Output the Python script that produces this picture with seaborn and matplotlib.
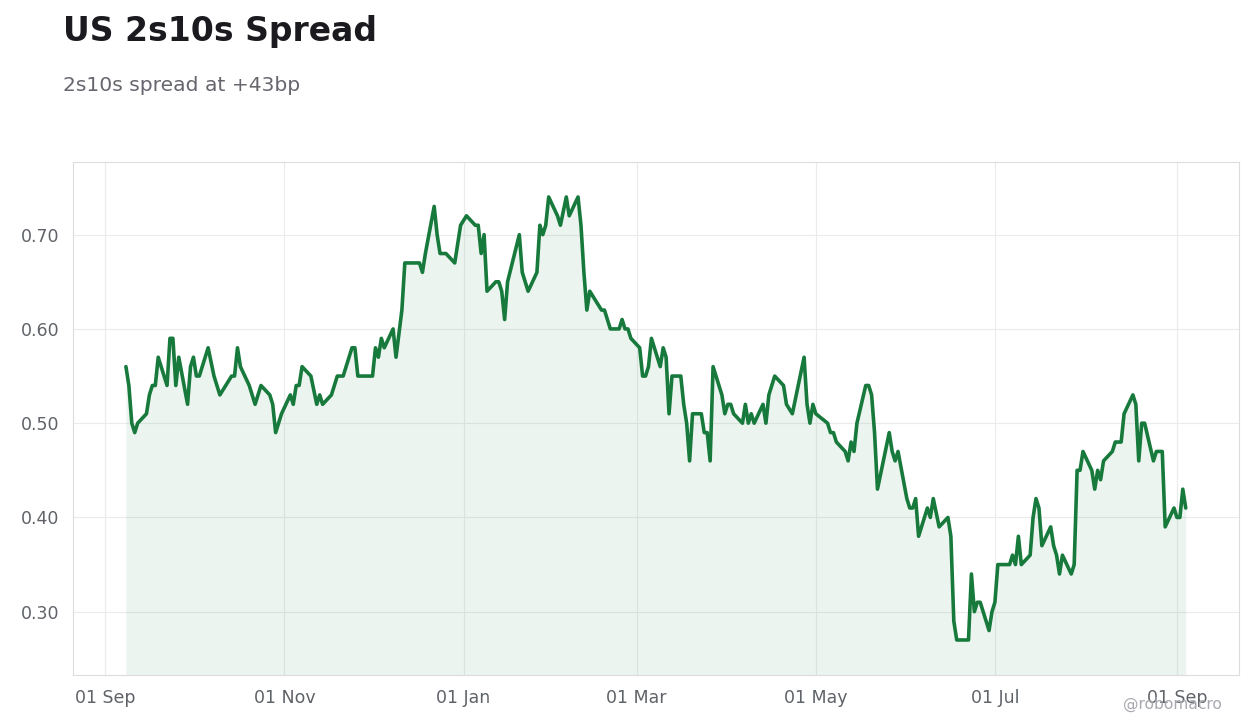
import pandas as pd
import matplotlib.pyplot as plt
import matplotlib.dates as mdates
import seaborn as sns

sns.set_theme(style="whitegrid")
plt.rcParams['font.family'] = ['DejaVu Sans']

# 2s10s spread (vertices of the line)
dates = [
    "2024-09-08", "2024-09-09", "2024-09-10", "2024-09-11", "2024-09-12", "2024-09-15",
    "2024-09-16", "2024-09-17", "2024-09-18", "2024-09-19", "2024-09-22", "2024-09-23",
    "2024-09-24", "2024-09-25", "2024-09-26", "2024-09-29", "2024-09-30", "2024-10-01",
    "2024-10-02", "2024-10-03", "2024-10-06", "2024-10-08", "2024-10-10", "2024-10-14",
    "2024-10-15", "2024-10-16", "2024-10-17", "2024-10-20", "2024-10-22", "2024-10-24",
    "2024-10-27", "2024-10-28", "2024-10-29", "2024-10-31", "2024-11-03", "2024-11-04",
    "2024-11-05", "2024-11-06", "2024-11-07", "2024-11-10", "2024-11-12", "2024-11-13",
    "2024-11-14", "2024-11-17", "2024-11-19", "2024-11-21", "2024-11-24", "2024-11-25",
    "2024-11-26", "2024-12-01", "2024-12-02", "2024-12-03", "2024-12-04", "2024-12-05",
    "2024-12-08", "2024-12-09", "2024-12-11", "2024-12-12", "2024-12-17", "2024-12-18",
    "2024-12-19", "2024-12-22", "2024-12-23", "2024-12-24", "2024-12-26", "2024-12-29",
    "2024-12-31", "2025-01-02", "2025-01-05", "2025-01-06", "2025-01-07", "2025-01-08",
    "2025-01-09", "2025-01-12", "2025-01-13", "2025-01-14", "2025-01-15", "2025-01-16",
    "2025-01-20", "2025-01-21", "2025-01-23", "2025-01-26", "2025-01-27", "2025-01-28",
    "2025-01-29", "2025-01-30", "2025-02-02", "2025-02-03", "2025-02-05", "2025-02-06",
    "2025-02-09", "2025-02-10", "2025-02-11", "2025-02-12", "2025-02-13", "2025-02-17",
    "2025-02-18", "2025-02-20", "2025-02-23", "2025-02-24", "2025-02-25", "2025-02-26",
    "2025-02-27", "2025-03-02", "2025-03-03", "2025-03-04", "2025-03-05", "2025-03-06",
    "2025-03-09", "2025-03-10", "2025-03-11", "2025-03-12", "2025-03-13", "2025-03-16",
    "2025-03-17", "2025-03-18", "2025-03-19", "2025-03-20", "2025-03-23", "2025-03-24",
    "2025-03-25", "2025-03-26", "2025-03-27", "2025-03-30", "2025-03-31", "2025-04-01",
    "2025-04-02", "2025-04-03", "2025-04-06", "2025-04-07", "2025-04-08", "2025-04-09",
    "2025-04-10", "2025-04-13", "2025-04-14", "2025-04-15", "2025-04-17", "2025-04-20",
    "2025-04-21", "2025-04-23", "2025-04-27", "2025-04-28", "2025-04-29", "2025-04-30",
    "2025-05-01", "2025-05-05", "2025-05-06", "2025-05-07", "2025-05-08", "2025-05-11",
    "2025-05-12", "2025-05-13", "2025-05-14", "2025-05-15", "2025-05-18", "2025-05-19",
    "2025-05-20", "2025-05-21", "2025-05-22", "2025-05-26", "2025-05-27", "2025-05-28",
    "2025-05-29", "2025-06-01", "2025-06-02", "2025-06-03", "2025-06-04", "2025-06-05",
    "2025-06-08", "2025-06-09", "2025-06-10", "2025-06-12", "2025-06-15", "2025-06-16",
    "2025-06-17", "2025-06-18", "2025-06-22", "2025-06-23", "2025-06-24", "2025-06-25",
    "2025-06-26", "2025-06-29", "2025-06-30", "2025-07-01", "2025-07-02", "2025-07-06",
    "2025-07-07", "2025-07-08", "2025-07-09", "2025-07-10", "2025-07-13", "2025-07-14",
    "2025-07-15", "2025-07-16", "2025-07-17", "2025-07-20", "2025-07-21", "2025-07-22",
    "2025-07-23", "2025-07-24", "2025-07-27", "2025-07-28", "2025-07-29", "2025-07-30",
    "2025-07-31", "2025-08-03", "2025-08-04", "2025-08-05", "2025-08-06", "2025-08-07",
    "2025-08-10", "2025-08-11", "2025-08-13", "2025-08-14", "2025-08-17", "2025-08-18",
    "2025-08-19", "2025-08-20", "2025-08-21", "2025-08-24", "2025-08-25", "2025-08-27",
    "2025-08-28", "2025-08-31", "2025-09-01", "2025-09-02", "2025-09-03", "2025-09-04",
]
spread = [
    0.56, 0.54, 0.50, 0.49, 0.50, 0.51,
    0.53, 0.54, 0.54, 0.57, 0.54, 0.59,
    0.59, 0.54, 0.57, 0.52, 0.56, 0.57,
    0.55, 0.55, 0.58, 0.55, 0.53, 0.55,
    0.55, 0.58, 0.56, 0.54, 0.52, 0.54,
    0.53, 0.52, 0.49, 0.51, 0.53, 0.52,
    0.54, 0.54, 0.56, 0.55, 0.52, 0.53,
    0.52, 0.53, 0.55, 0.55, 0.58, 0.58,
    0.55, 0.55, 0.58, 0.57, 0.59, 0.58,
    0.60, 0.57, 0.62, 0.67, 0.67, 0.66,
    0.68, 0.73, 0.70, 0.68, 0.68, 0.67,
    0.71, 0.72, 0.71, 0.71, 0.68, 0.70,
    0.64, 0.65, 0.65, 0.64, 0.61, 0.65,
    0.70, 0.66, 0.64, 0.66, 0.71, 0.70,
    0.71, 0.74, 0.72, 0.71, 0.74, 0.72,
    0.74, 0.71, 0.66, 0.62, 0.64, 0.62,
    0.62, 0.60, 0.60, 0.61, 0.60, 0.60,
    0.59, 0.58, 0.55, 0.55, 0.56, 0.59,
    0.56, 0.58, 0.57, 0.51, 0.55, 0.55,
    0.52, 0.50, 0.46, 0.51, 0.51, 0.49,
    0.49, 0.46, 0.56, 0.53, 0.51, 0.52,
    0.52, 0.51, 0.50, 0.52, 0.50, 0.51,
    0.50, 0.52, 0.50, 0.53, 0.55, 0.54,
    0.52, 0.51, 0.57, 0.52, 0.50, 0.52,
    0.51, 0.50, 0.49, 0.49, 0.48, 0.47,
    0.46, 0.48, 0.47, 0.50, 0.54, 0.54,
    0.53, 0.49, 0.43, 0.49, 0.47, 0.46,
    0.47, 0.42, 0.41, 0.41, 0.42, 0.38,
    0.41, 0.40, 0.42, 0.39, 0.40, 0.38,
    0.29, 0.27, 0.27, 0.34, 0.30, 0.31,
    0.31, 0.28, 0.30, 0.31, 0.35, 0.35,
    0.36, 0.35, 0.38, 0.35, 0.36, 0.40,
    0.42, 0.41, 0.37, 0.39, 0.37, 0.36,
    0.34, 0.36, 0.34, 0.35, 0.45, 0.45,
    0.47, 0.45, 0.43, 0.45, 0.44, 0.46,
    0.47, 0.48, 0.48, 0.51, 0.53, 0.52,
    0.46, 0.50, 0.50, 0.46, 0.47, 0.47,
    0.39, 0.41, 0.40, 0.40, 0.43, 0.41,
]

df = pd.DataFrame({'Date': pd.to_datetime(dates), 'Spread': spread})

line_color = '#177a3c'
text_gray = '#5f6368'

fig = plt.figure(figsize=(12.6, 7.28), dpi=100, facecolor='white')
ax = fig.add_axes([0.058, 0.073, 0.925, 0.705])

y_min, y_max = 0.233, 0.7775
sns.lineplot(data=df, x='Date', y='Spread', ax=ax, color=line_color, linewidth=2.6)
ax.fill_between(df['Date'], df['Spread'], y_min, color=line_color, alpha=0.08, linewidth=0)

ax.set_ylim(y_min, y_max)
ax.set_xlim(pd.Timestamp('2024-08-21'), pd.Timestamp('2025-09-22'))
ax.set_yticks([0.30, 0.40, 0.50, 0.60, 0.70])
ax.yaxis.set_major_formatter(plt.FormatStrFormatter('%.2f'))
ax.xaxis.set_major_locator(mdates.MonthLocator(bymonth=[1, 3, 5, 7, 9, 11]))
ax.xaxis.set_major_formatter(mdates.DateFormatter('%d %b'))

ax.set_xlabel('')
ax.set_ylabel('')
ax.set_facecolor('white')
ax.grid(True, color='#ebebeb', linewidth=0.8)
for s in ax.spines.values():
    s.set_color('#dcdcdc')
    s.set_linewidth(0.8)
ax.tick_params(axis='both', labelsize=12.5, colors=text_gray, length=4, width=0.8,
               direction='out', pad=6)
ax.tick_params(axis='both', color='#555555')

fig.text(0.05, 0.957, 'US 2s10s Spread', fontsize=23.8, fontweight='bold',
         color='#1a1a1f', va='center', ha='left')
fig.text(0.05, 0.883, '2s10s spread at +43bp', fontsize=14.6,
         color='#66666e', va='center', ha='left')
fig.text(0.970, 0.032, '@robomacro', fontsize=11.2, color='#a8a8b0',
         va='center', ha='right')

plt.savefig('out.png', dpi=100, facecolor='white')
plt.close()
